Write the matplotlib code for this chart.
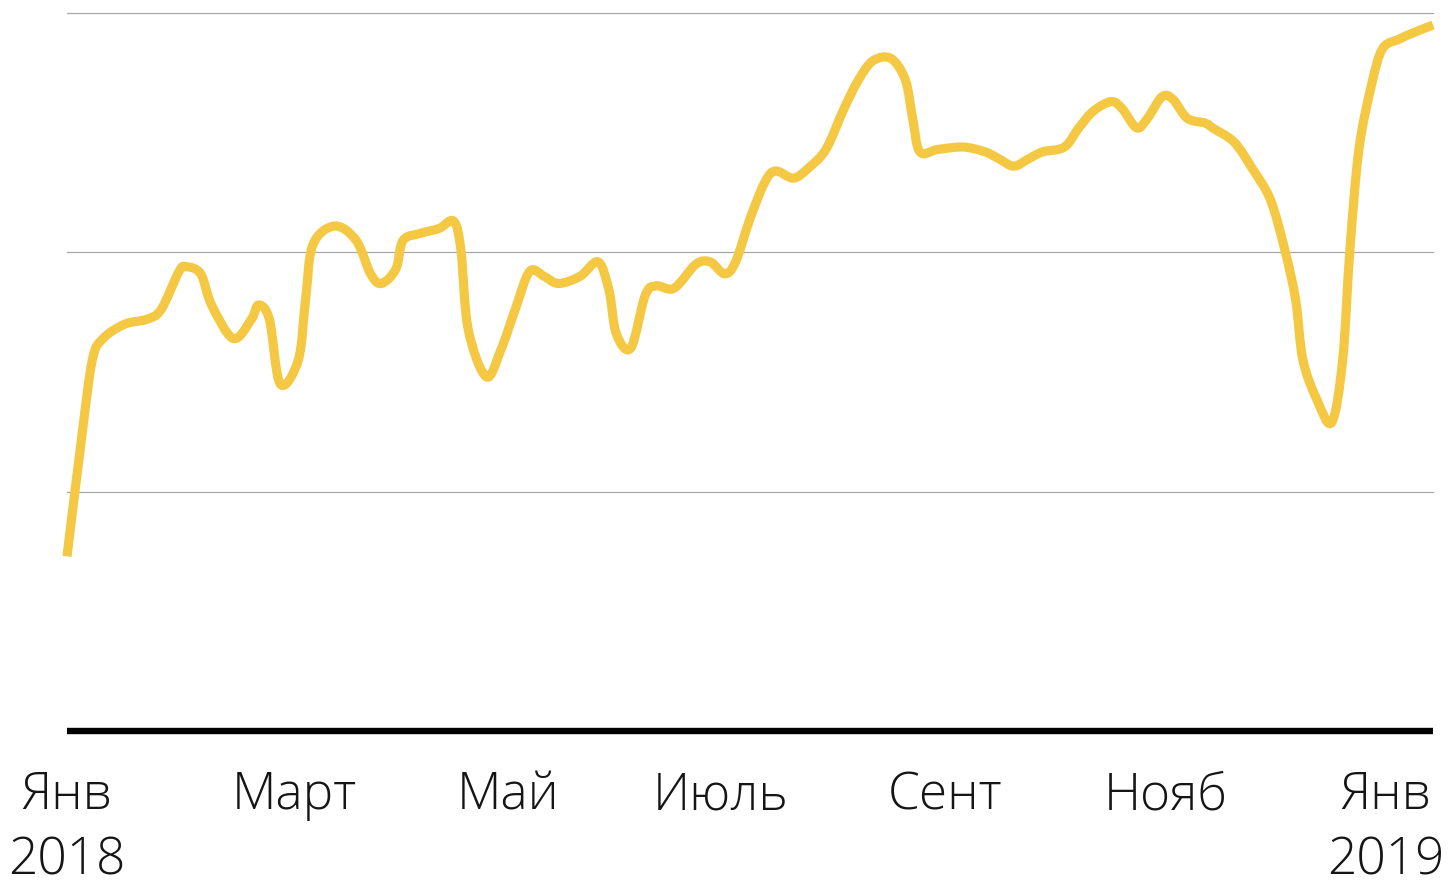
import numpy as np
import matplotlib
matplotlib.use("Agg")
import matplotlib.pyplot as plt
from matplotlib.path import Path
from matplotlib.patches import PathPatch

plt.rcParams['font.family'] = ['Open Sans', 'DejaVu Sans']

# day offsets from 1 Jan 2018 and index values
days = [0, 4, 7, 10, 16, 22, 26, 31, 33, 37, 40, 46, 51, 53, 56, 59, 64, 66, 68,
        74, 80, 84, 87, 91, 93, 98, 103, 107, 109, 111, 116, 120, 124, 128, 132,
        136, 142, 147, 150, 152, 156, 160, 163, 168, 174, 178, 182, 185, 189, 193,
        196, 201, 205, 210, 215, 219, 223, 228, 232, 234, 236, 241, 248, 254, 258,
        262, 266, 270, 276, 280, 284, 289, 292, 296, 299, 303, 306, 310, 315, 317,
        323, 328, 333, 337, 340, 342, 346, 350, 353, 355, 357.5, 361, 364, 368.5,
        373, 378]
values = [7.3, 12.2, 15.5, 16.4, 17.0, 17.2, 17.6, 19.2, 19.4, 19.1, 17.8, 16.4,
          17.2, 17.8, 17.2, 14.5, 15.5, 18.0, 20.3, 21.1, 20.5, 19.1, 18.7, 19.3,
          20.5, 20.8, 21.0, 21.3, 20.1, 16.8, 14.8, 15.9, 17.6, 19.2, 19.0, 18.7,
          19.0, 19.6, 18.4, 16.6, 16.0, 18.2, 18.6, 18.5, 19.5, 19.6, 19.1, 19.6,
          21.4, 22.9, 23.4, 23.1, 23.5, 24.3, 26.0, 27.2, 28.0, 28.1, 27.2, 25.6,
          24.2, 24.3, 24.4, 24.2, 23.9, 23.6, 23.9, 24.2, 24.4, 25.2, 25.9, 26.3,
          26.0, 25.2, 25.6, 26.5, 26.4, 25.6, 25.4, 25.2, 24.6, 23.5, 22.2, 20.1,
          18.0, 15.5, 13.8, 12.9, 15.5, 20.1, 24.3, 27.0, 28.5, 28.9, 29.2, 29.5]

tick_days = [0, 63, 122, 181, 243, 304, 365]
tick_labels = ['Янв\n2018', 'Март', 'Май', 'Июль', 'Сент', 'Нояб', 'Янв\n2019']
grid_values = [10, 20, 30]


def smooth_path(x, y, t=0.5):
    # catmull-rom through the points, drawn as cubic bezier segments
    x = np.asarray(x, float)
    y = np.asarray(y, float)
    px = np.concatenate([[x[0]], x, [x[-1]]])
    py = np.concatenate([[y[0]], y, [y[-1]]])
    verts = [(x[0], y[0])]
    codes = [Path.MOVETO]
    for i in range(1, len(px) - 2):
        c1 = (px[i] + (px[i + 1] - px[i - 1]) * t / 3, py[i] + (py[i + 1] - py[i - 1]) * t / 3)
        c2 = (px[i + 1] - (px[i + 2] - px[i]) * t / 3, py[i + 1] - (py[i + 2] - py[i]) * t / 3)
        verts += [c1, c2, (px[i + 1], py[i + 1])]
        codes += [Path.CURVE4] * 3
    return Path(verts, codes)


W, H = 1453, 888
fig = plt.figure(figsize=(W / 100, H / 100), dpi=100)
ax = fig.add_axes([67 / W, 1 - 731 / H, (1433 - 67) / W, (731 - 13) / H])

for g in grid_values:
    ax.axhline(g, color='#a8a8a8', lw=0.9, zorder=1, clip_on=False)
ax.axhline(0, color='black', lw=4.6, zorder=3, clip_on=False, solid_capstyle='butt')

ax.add_patch(PathPatch(smooth_path(days, values), facecolor='none', edgecolor='#f4c842',
                       lw=6.6, joinstyle='round', capstyle='butt', zorder=2, clip_on=False))

ax.set_xlim(0, 378)
ax.set_ylim(0, 30)
ax.set_yticks([])
ax.set_xticks(tick_days)
ax.set_xticklabels(tick_labels, fontsize=37, fontweight='light', color='#151515',
                   linespacing=1.34)
ax.tick_params(axis='x', length=0, pad=28)
for s in ax.spines.values():
    s.set_visible(False)

fig.savefig('out.png', dpi=100, facecolor='white')
